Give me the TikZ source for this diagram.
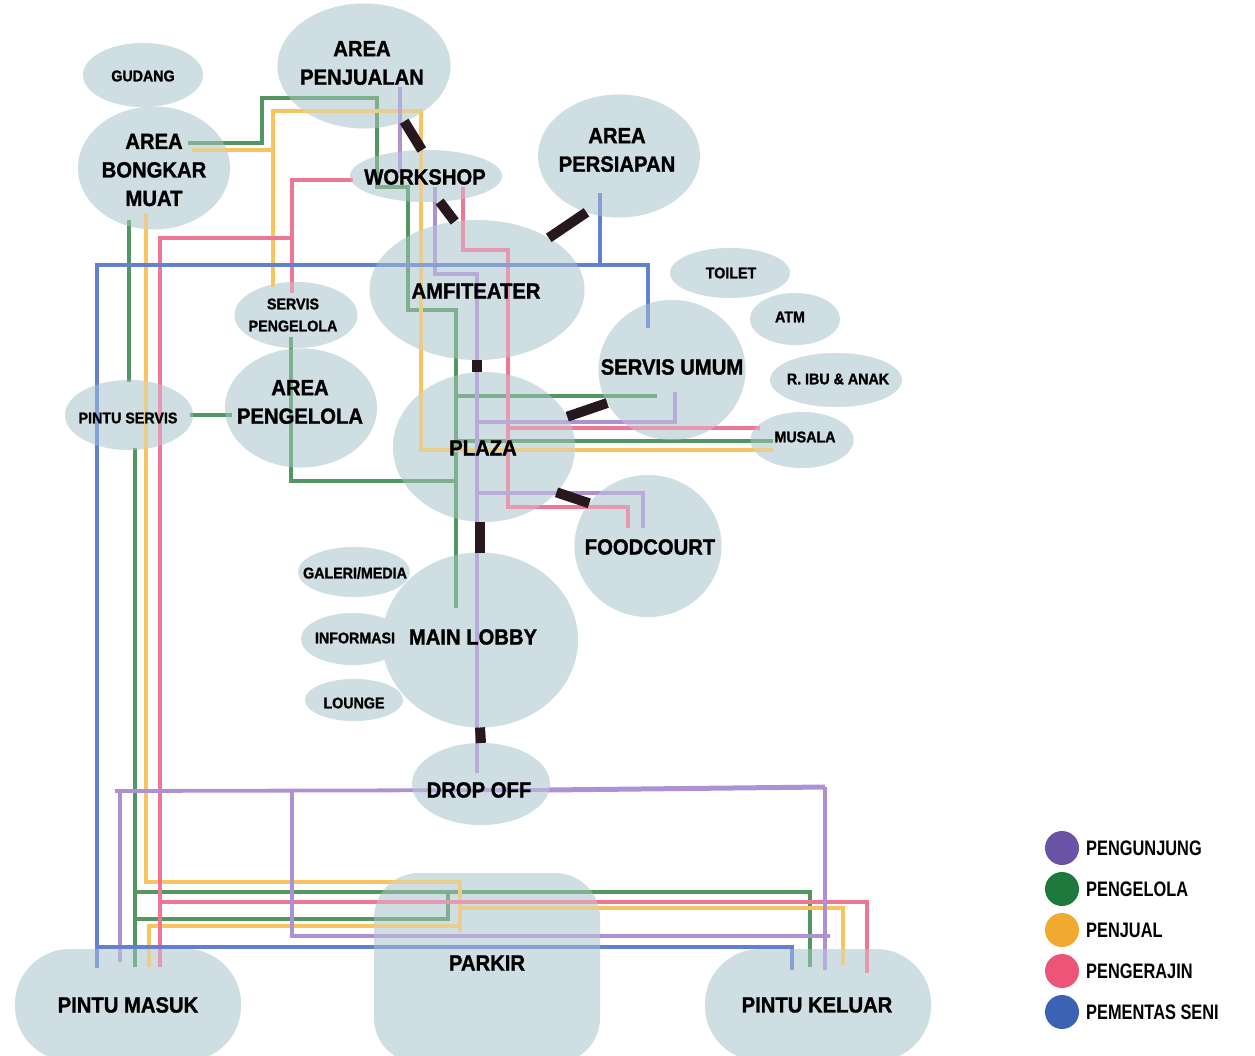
\documentclass[tikz,border=0pt]{standalone}
\usepackage{fontspec}
\setmainfont{Liberation Sans}
\newfontfamily\lblfont[FakeStretch=0.92,FakeBold=1.3]{Liberation Sans}
\newfontfamily\legfont[FakeStretch=0.78]{Liberation Sans}
\usetikzlibrary{shapes.geometric,calc}
\definecolor{bub}{RGB}{206,222,226}
\definecolor{cpu}{RGB}{172,146,212}
\definecolor{cgr}{RGB}{84,150,98}
\definecolor{cor}{RGB}{248,196,96}
\definecolor{cpk}{RGB}{240,118,150}
\definecolor{cbl}{RGB}{98,128,205}
\definecolor{lpu}{RGB}{106,82,165}
\definecolor{lgr}{RGB}{30,122,60}
\definecolor{lor}{RGB}{240,170,48}
\definecolor{lpk}{RGB}{236,85,120}
\definecolor{lbl}{RGB}{60,98,180}
\definecolor{blk}{RGB}{38,24,30}
\def\bubbles{gud/143/75/120/64, bm/154/168/152/123, pj/364/66/173/125, ws/426/176/152/52, pers/619/156/162/123, amf/477/290/215/140, toi/730/273/120/50, atm/795/319/90/52, su/672/370/147/140, ibu/836/380/132/54, mus/802/440/103/56, sp/296/315/123/66, ap/301/408/152/119, ps/129/415/128/70, plaza/484/447/182/150, fc/648/546/147/142, gal/354/572/112/50, inf/353/639/104/52, lou/354/700/98/42, ml/480/640/196/175, do/481/784/138/82}
\def\boxes{pmas/128/1005/226/112/55, park/487/968/226/190/45, pkel/818/1005/226/112/55}
\begin{document}
\begin{tikzpicture}[x=1pt,y=-1pt,
  bubble/.style={ellipse, fill=bub, inner sep=0, outer sep=0},
  boxbub/.style={rectangle, fill=bub, inner sep=0, outer sep=0},
  route/.style={line width=3.8pt},
  pu/.style={route, draw=cpu}, gr/.style={route, draw=cgr}, orr/.style={route, draw=cor},
  pkr/.style={route, draw=cpk}, bl/.style={route, draw=cbl},
  link/.style={draw=blk, line width=10pt},
  big/.style={font=\lblfont\bfseries\fontsize{22}{28.5}\selectfont, align=center, inner sep=0, text=black},
  small/.style={font=\lblfont\bfseries\fontsize{15.5}{22}\selectfont, align=center, inner sep=0, text=black},
  leg/.style={font=\legfont\bfseries\fontsize{21}{24}\selectfont, inner sep=0, anchor=west, text=black}]
\useasboundingbox (0,0) rectangle (1255,1056);
\clip (0,0) rectangle (1255,1056);
% bubbles (opaque base)
\foreach \n/\x/\y/\w/\h in \bubbles
  \node[bubble, minimum width=\w, minimum height=\h] (\n) at (\x,\y) {};
\foreach \n/\x/\y/\w/\h/\r in \boxes
  \node[boxbub, rounded corners=\r, minimum width=\w, minimum height=\h] (\n) at (\x,\y) {};
% green routes
\draw[gr] (188,143) -- (262,143) -- (262,98) -- (377,98) -- (377,187) -- (408,187) -- (408,310) -- (456,310) -- (456,608);
\draw[gr] (456,396) -- (657,396);
\draw[gr] (456,441) -- (773,441);
\draw[gr] (291,337) -- (291,481) -- (456,481);
\draw[gr] (190,415) -- (232,415);
\draw[gr] (129,220) -- (129,382);
\draw[gr] (135,448) -- (135,967);
\draw[gr] (135,892) -- (810,892) -- (810,967);
\draw[gr] (135,919) -- (448,919) -- (448,892);
% orange routes
\draw[orr] (192,150) -- (273,150);
\draw[orr] (273,287) -- (273,111) -- (421,111) -- (421,450) -- (773,450);
\draw[orr] (146,213) -- (146,882) -- (460,882) -- (460,932);
\draw[orr] (149,967) -- (149,926) -- (460,926);
\draw[orr] (460,908) -- (843,908) -- (843,965);
% pink routes
\draw[pkr] (353,180) -- (292,180) -- (292,293);
\draw[pkr] (292,238) -- (160,238) -- (160,967);
\draw[pkr] (463,187) -- (463,250) -- (508,250) -- (508,507) -- (628,507) -- (628,528);
\draw[pkr] (508,428) -- (760,428);
\draw[pkr] (160,902) -- (867,902) -- (867,973);
% purple routes
\draw[pu] (400,87) -- (400,173);
\draw[pu] (435,187) -- (435,274) -- (477,274) -- (477,773);
\draw[pu] (477,422) -- (675,422) -- (675,392);
\draw[pu] (477,493) -- (643,493) -- (643,528);
\draw[pu] (115,791) -- (548,790);
\draw[pu, line width=5pt] (548,790) -- (825,787);
\draw[pu] (825,787) -- (825,970);
\draw[pu] (120,791) -- (120,962);
\draw[pu] (292,791) -- (292,936) -- (830,936);
% blue routes
\draw[bl] (97,968) -- (97,265) -- (648,265) -- (648,328);
\draw[bl] (600,193) -- (600,265);
\draw[bl] (97,947) -- (792,947) -- (792,970);
% bubbles (translucent overlay)
\foreach \n/\x/\y/\w/\h in \bubbles
  \node[bubble, fill opacity=0.35, minimum width=\w, minimum height=\h] (\n-ov) at (\x,\y) {};
\foreach \n/\x/\y/\w/\h/\r in \boxes
  \node[boxbub, fill opacity=0.35, rounded corners=\r, minimum width=\w, minimum height=\h] (\n-ov) at (\x,\y) {};
% black links
\draw[link] (pj.-54) -- (ws.99);
\draw[link] (ws.-62) -- (amf.108);
\draw[link] (amf.36) -- (pers.-120);
\draw[link] (amf.south) -- (amf.south |- plaza.north);
\draw[link] (plaza.20) -- (su.-153);
\draw[link] (plaza.-32) -- (fc.144);
\draw[link] (ml.north |- plaza.south) -- (ml.north);
\draw[link] (ml.south) -- (do.north);
% labels
\node[small] (t-gud) at (143,76) {GUDANG};
\node[big] (t-bm) at (154,170) {AREA\\BONGKAR\\MUAT};
\node[big] (t-pj) at (362,63) {AREA\\PENJUALAN};
\node[big] (t-ws) at (425,177) {WORKSHOP};
\node[big] (t-pers) at (617,150) {AREA\\PERSIAPAN};
\node[big] (t-amf) at (476,291) {AMFITEATER};
\node[small] (t-toi) at (731,273) {TOILET};
\node[small] (t-atm) at (790,317) {ATM};
\node[big] (t-su) at (672,367) {SERVIS UMUM};
\node[small] (t-ibu) at (838,379) {R. IBU \& ANAK};
\node[small] (t-mus) at (805,437) {MUSALA};
\node[small] (t-sp) at (293,315) {SERVIS\\PENGELOLA};
\node[big] (t-ap) at (300,402) {AREA\\PENGELOLA};
\node[small] (t-ps) at (128,418) {PINTU SERVIS};
\node[big] (t-plaza) at (483,448) {PLAZA};
\node[big] (t-fc) at (650,547) {FOODCOURT};
\node[small] (t-gal) at (355,573) {GALERI/MEDIA};
\node[small] (t-inf) at (355,638) {INFORMASI};
\node[big] (t-ml) at (473,637) {MAIN LOBBY};
\node[small] (t-lou) at (354,703) {LOUNGE};
\node[big] (t-do) at (479,790) {DROP OFF};
\node[big] (t-pmas) at (128,1005) {PINTU MASUK};
\node[big] (t-park) at (487,963) {PARKIR};
\node[big] (t-pkel) at (817,1005) {PINTU KELUAR};
% legend
\foreach \i/\c/\t in {0/lpu/PENGUNJUNG, 1/lgr/PENGELOLA, 2/lor/PENJUAL, 3/lpk/PENGERAJIN, 4/lbl/PEMENTAS SENI} {
  \node[circle, fill=\c, minimum size=34, inner sep=0] (leg\i) at (1062,{848+41*\i}) {};
  \node[leg] (legt\i) at (1086,{848+41*\i}) {\t};
}
\end{tikzpicture}
\end{document}
